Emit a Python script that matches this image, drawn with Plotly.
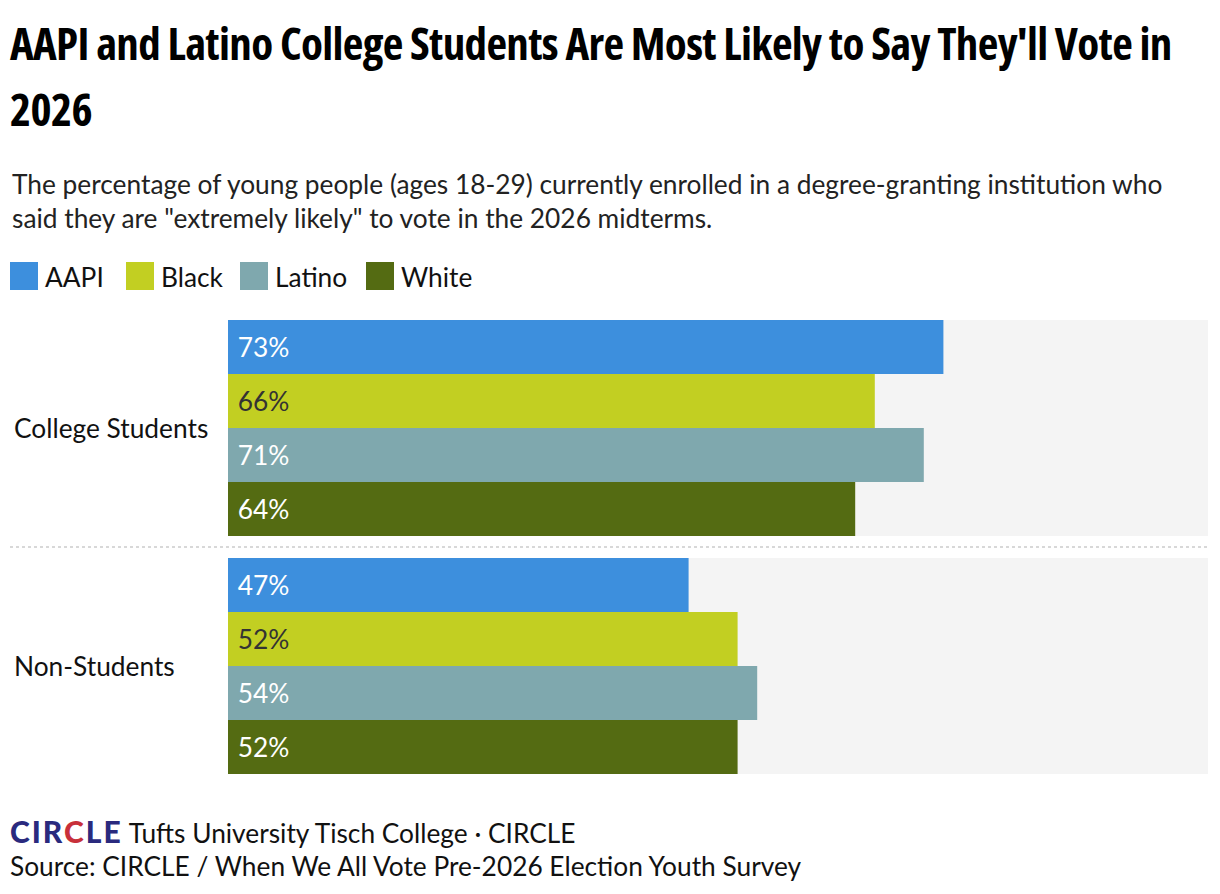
import plotly.graph_objects as go

groups = ["College Students", "Non-Students"]
series = ["AAPI", "Black", "Latino", "White"]
values = {
    "AAPI": [73, 47],
    "Black": [66, 52],
    "Latino": [71, 54],
    "White": [64, 52],
}
colors = {"AAPI": "#3d8fdd", "Black": "#c2cf22", "Latino": "#7fa8ae", "White": "#546b12"}
text_colors = {"AAPI": "#ffffff", "Black": "#333333", "Latino": "#ffffff", "White": "#ffffff"}
max_value = [100, 100]
title_lines = ["AAPI and Latino College Students Are Most Likely to Say They'll Vote in", "2026"]

# page has an 8px body margin; design in reference pixels and shift
OFF = 8
W, H = 1204, 878
L, R, T, B = 220, 4, 301, 101
PW, PH = W - L - R, H - T - B

def px(x):
    return (x - OFF - L) / PW

def py(y):
    return (H - B - (y - OFF)) / PH

FONT = "Lato, 'Open Sans', sans-serif"
FS = 26.3

fig = go.Figure()
bargap = 22 / 238
fig.add_trace(go.Bar(y=groups, x=max_value, orientation="h", marker_color="#f4f4f4",
                     marker_line_width=0, showlegend=False, hoverinfo="skip", yaxis="y"))
for s in series:
    fig.add_trace(go.Bar(
        y=groups, x=values[s], orientation="h", name=s, yaxis="y2",
        marker_color=colors[s], marker_line_width=0,
        text=[f"\u00a0{v}%" for v in values[s]], textposition="inside", insidetextanchor="start",
        textfont=dict(family=FONT, size=FS, color=text_colors[s]),
        showlegend=False,
    ))

fig.update_layout(
    width=W, height=H,
    margin=dict(l=L, r=R, t=T, b=B),
    paper_bgcolor="white", plot_bgcolor="white",
    barmode="group", bargap=bargap, bargroupgap=0,
    xaxis=dict(range=[0, 100], visible=False, fixedrange=True),
    yaxis=dict(categoryorder="array", categoryarray=groups, autorange="reversed",
               showticklabels=False, showgrid=False, zeroline=False),
    yaxis2=dict(categoryorder="array", categoryarray=groups, autorange="reversed",
                overlaying="y", showticklabels=False, showgrid=False, zeroline=False),
    uniformtext=dict(mode="show", minsize=10),
)

ann = []
title_style = "font-family:'Open Sans';font-stretch:75%;font-weight:700;letter-spacing:-0.65px"
for i, line in enumerate(title_lines):
    ann.append(dict(xref="paper", yref="paper", x=px(8), y=py(42 + 67 * i), xanchor="left", yanchor="middle",
                    text=f"<span style=\"{title_style}\">{line}</span>",
                    showarrow=False, align="left",
                    font=dict(family="'Open Sans', sans-serif", size=45, color="#000000")))
ann.append(dict(xref="paper", yref="paper", x=px(10), y=py(166), xanchor="left", yanchor="top",
                text="The percentage of young people (ages 18-29) currently enrolled in a degree-granting institution who<br>said they are \"extremely likely\" to vote in the 2026 midterms.",
                showarrow=False, align="left",
                font=dict(family=FONT, size=FS, color="#222222")))
for g in groups:
    ann.append(dict(xref="paper", yref="y", x=px(12), y=g, xanchor="left", yanchor="middle",
                    text=g, showarrow=False, font=dict(family=FONT, size=FS, color="#111111")))

shapes = []
leg_x = [10, 126, 240, 366]
for s, lx in zip(series, leg_x):
    shapes.append(dict(type="rect", xref="paper", yref="paper", x0=px(lx), x1=px(lx + 28),
                       y0=py(290), y1=py(262), fillcolor=colors[s], line_width=0))
    ann.append(dict(xref="paper", yref="paper", x=px(lx + 33), y=py(277), xanchor="left", yanchor="middle",
                    text=s, showarrow=False, font=dict(family=FONT, size=FS, color="#111111")))
shapes.append(dict(type="line", xref="paper", yref="paper", x0=px(10), x1=px(1208),
                   y0=py(547), y1=py(547), line=dict(color="#cccccc", width=1.5, dash="dot")))
logo = ("<span style=\"font-weight:900;font-size:30px;letter-spacing:2px\">"
        "<span style='color:#2a2a7e'>CIR</span><span style='color:#c8303a'>C</span>"
        "<span style='color:#2a2a7e'>LE</span></span>")
ann.append(dict(xref="paper", yref="paper", x=px(8), y=py(831), xanchor="left", yanchor="middle",
                text=logo + " Tufts University Tisch College · CIRCLE",
                showarrow=False, align="left", font=dict(family=FONT, size=FS, color="#111111")))
ann.append(dict(xref="paper", yref="paper", x=px(8), y=py(866), xanchor="left", yanchor="middle",
                text="Source: CIRCLE / When We All Vote Pre-2026 Election Youth Survey",
                showarrow=False, align="left", font=dict(family=FONT, size=FS, color="#111111")))

fig.update_layout(annotations=ann, shapes=shapes)
fig.write_html("out.html")
